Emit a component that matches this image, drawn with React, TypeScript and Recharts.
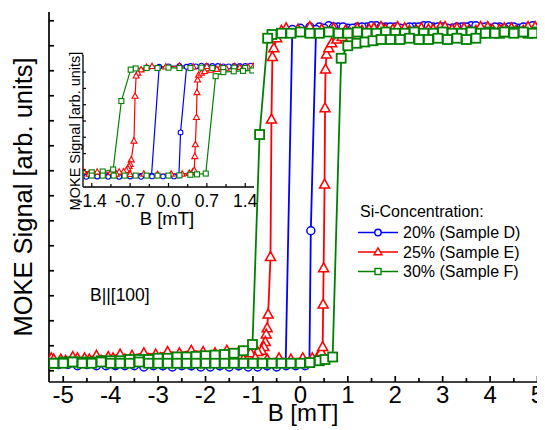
import React from 'react';
import { LineChart, Line, XAxis, YAxis } from 'recharts';

const FONT = '"Liberation Sans", Arial, Helvetica, sans-serif';
const BLUE = '#0000ff';
const RED = '#ff0000';
const GREEN = '#008000';

// ---- Sample D (20 %) : descending branch then ascending branch ----
const blueDownB = [5.2, 5.0, 4.8, 4.6, 4.4, 4.2, 4.0, 3.8, 3.6, 3.4, 3.2, 3.0, 2.8, 2.6, 2.4, 2.2, 2.0, 1.8, 1.6, 1.4, 1.2, 1.0, 0.8, 0.6, 0.4, 0.2, 0.0, -0.17, -0.31, -0.5, -0.7, -0.9, -1.1, -1.3, -1.5, -1.7, -1.9, -2.1, -2.3, -2.5, -2.7, -2.9, -3.1, -3.3, -3.5, -3.7, -3.9, -4.1, -4.3, -4.5, -4.7, -4.9, -5.1];
const blueDownM = [1.35, 1.34, 1.35, 1.34, 1.35, 1.35, 1.34, 1.35, 1.36, 1.35, 1.34, 1.35, 1.35, 1.36, 1.35, 1.34, 1.35, 1.35, 1.36, 1.35, 1.35, 1.34, 1.35, 1.36, 1.35, 1.35, 1.34, 1.33, -1.34, -1.35, -1.36, -1.36, -1.35, -1.36, -1.35, -1.36, -1.36, -1.35, -1.36, -1.35, -1.35, -1.36, -1.35, -1.36, -1.35, -1.35, -1.36, -1.35, -1.34, -1.35, -1.35, -1.34, -1.35];
const blueUpB = [-5.1, -4.9, -4.7, -4.5, -4.3, -4.1, -3.9, -3.7, -3.5, -3.3, -3.1, -2.9, -2.7, -2.5, -2.3, -2.1, -1.9, -1.7, -1.5, -1.3, -1.1, -0.9, -0.7, -0.5, -0.3, -0.1, 0.1, 0.19, 0.22, 0.33, 0.5, 0.7, 0.9, 1.1, 1.3, 1.5, 1.7, 1.9, 2.1, 2.3, 2.5, 2.7, 2.9, 3.1, 3.3, 3.5, 3.7, 3.9, 4.1, 4.3, 4.5, 4.7, 4.9, 5.1];
const blueUpM = [-1.35, -1.35, -1.36, -1.35, -1.36, -1.36, -1.35, -1.36, -1.36, -1.37, -1.36, -1.36, -1.37, -1.36, -1.36, -1.37, -1.37, -1.36, -1.37, -1.36, -1.37, -1.37, -1.36, -1.37, -1.36, -1.36, -1.36, -1.34, -0.28, 1.33, 1.34, 1.35, 1.35, 1.34, 1.35, 1.36, 1.35, 1.35, 1.34, 1.35, 1.35, 1.36, 1.35, 1.34, 1.35, 1.35, 1.36, 1.35, 1.35, 1.34, 1.35, 1.35, 1.36, 1.35];

// ---- Sample E (25 %) ----
const redDownB = [5.2, 4.95, 4.7, 4.45, 4.2, 3.95, 3.7, 3.45, 3.2, 2.95, 2.7, 2.45, 2.2, 1.95, 1.7, 1.45, 1.2, 0.95, 0.7, 0.45, 0.2, -0.05, -0.3, -0.4, -0.5, -0.56, -0.59, -0.61, -0.63, -0.68, -0.7, -0.72, -0.74, -0.77, -0.82, -0.9, -1.05, -1.3, -1.55, -1.8, -2.05, -2.3, -2.55, -2.8, -3.05, -3.3, -3.55, -3.8, -4.05, -4.3, -4.55, -4.8, -5.05, -5.25];
const redDownM = [1.33, 1.35, 1.32, 1.34, 1.33, 1.35, 1.32, 1.34, 1.33, 1.35, 1.33, 1.32, 1.34, 1.33, 1.35, 1.33, 1.34, 1.32, 1.34, 1.33, 1.35, 1.33, 1.34, 1.32, 1.26, 1.18, 1.11, 0.61, -0.49, -0.95, -1.06, -1.11, -1.17, -1.21, -1.24, -1.25, -1.26, -1.25, -1.24, -1.26, -1.25, -1.24, -1.26, -1.25, -1.27, -1.26, -1.28, -1.27, -1.29, -1.28, -1.3, -1.29, -1.31, -1.3];
const redUpB = [-5.2, -4.95, -4.7, -4.45, -4.2, -3.95, -3.7, -3.45, -3.2, -2.95, -2.7, -2.45, -2.2, -1.95, -1.7, -1.45, -1.2, -0.95, -0.7, -0.45, -0.2, 0.05, 0.25, 0.38, 0.44, 0.47, 0.48, 0.49, 0.51, 0.52, 0.53, 0.55, 0.6, 0.66, 0.77, 0.88, 1.05, 1.3, 1.55, 1.8, 2.05, 2.3, 2.55, 2.8, 3.05, 3.3, 3.55, 3.8, 4.05, 4.3, 4.55, 4.8, 5.05];
const redUpM = [-1.31, -1.32, -1.3, -1.31, -1.32, -1.3, -1.31, -1.32, -1.31, -1.3, -1.32, -1.31, -1.3, -1.31, -1.32, -1.3, -1.31, -1.3, -1.31, -1.3, -1.31, -1.3, -1.3, -1.28, -1.25, -1.21, -0.87, -0.58, 0.09, 0.7, 1.01, 1.13, 1.18, 1.22, 1.25, 1.27, 1.3, 1.32, 1.34, 1.33, 1.35, 1.32, 1.34, 1.33, 1.35, 1.34, 1.32, 1.35, 1.33, 1.34, 1.32, 1.35, 1.33];

// ---- Sample F (30 %) ----
const greenDownB = [5.2, 5.0, 4.8, 4.6, 4.4, 4.2, 4.0, 3.8, 3.6, 3.4, 3.2, 3.0, 2.8, 2.6, 2.4, 2.2, 2.0, 1.8, 1.6, 1.4, 1.2, 1.0, 0.8, 0.6, 0.4, 0.2, 0.0, -0.2, -0.4, -0.6, -0.69, -0.86, -1.01, -1.2, -1.4, -1.6, -1.8, -2.0, -2.2, -2.4, -2.6, -2.8, -3.0, -3.2, -3.4, -3.6, -3.8, -4.0, -4.2, -4.4, -4.6, -4.8, -5.0, -5.2];
const greenDownM = [1.31, 1.31, 1.3, 1.31, 1.31, 1.3, 1.31, 1.3, 1.31, 1.3, 1.3, 1.31, 1.3, 1.3, 1.31, 1.3, 1.3, 1.31, 1.3, 1.3, 1.31, 1.3, 1.3, 1.31, 1.3, 1.3, 1.31, 1.3, 1.3, 1.29, 1.26, 0.49, -1.19, -1.24, -1.26, -1.27, -1.275, -1.28, -1.285, -1.29, -1.29, -1.3, -1.3, -1.31, -1.31, -1.31, -1.32, -1.32, -1.32, -1.33, -1.33, -1.33, -1.33, -1.34];
const greenUpB = [-5.2, -5.0, -4.8, -4.6, -4.4, -4.2, -4.0, -3.8, -3.6, -3.4, -3.2, -3.0, -2.8, -2.6, -2.4, -2.2, -2.0, -1.8, -1.6, -1.4, -1.2, -1.0, -0.8, -0.6, -0.4, -0.2, 0.0, 0.2, 0.4, 0.52, 0.68, 0.86, 1.0, 1.19, 1.36, 1.53, 1.7, 1.9, 2.1, 2.3, 2.5, 2.7, 2.9, 3.1, 3.3, 3.5, 3.7, 3.9, 4.1, 4.3, 4.5, 4.7, 4.9, 5.1];
const greenUpM = [-1.34, -1.34, -1.33, -1.34, -1.34, -1.33, -1.34, -1.34, -1.34, -1.33, -1.34, -1.34, -1.34, -1.34, -1.34, -1.34, -1.34, -1.34, -1.34, -1.34, -1.34, -1.34, -1.34, -1.34, -1.34, -1.34, -1.34, -1.335, -1.32, -1.31, -1.29, 1.1, 1.2, 1.22, 1.23, 1.24, 1.25, 1.25, 1.25, 1.26, 1.25, 1.25, 1.26, 1.25, 1.26, 1.25, 1.26, 1.3, 1.3, 1.31, 1.3, 1.31, 1.3, 1.31];

// ---- axes ----
const mainXTicks = [-5, -4.5, -4, -3.5, -3, -2.5, -2, -1.5, -1, -0.5, 0, 0.5, 1, 1.5, 2, 2.5, 3, 3.5, 4, 4.5, 5, 5.5];
const mainYTicks = [-1.4, -1.2, -1.0, -0.8, -0.6, -0.4, -0.2, 0, 0.2, 0.4, 0.6, 0.8, 1.0, 1.2, 1.4];
const insetXTicks = [-1.4, -1.05, -0.7, -0.35, 0, 0.35, 0.7, 1.05, 1.4];
const insetXLabels = [-1.4, -0.7, 0, 0.7, 1.4];
const insetYTicks = [-1.2, -0.8, -0.4, 0, 0.4, 0.8, 1.2];

const legendItems = [
  { name: '20% (Sample D)', color: BLUE, shape: 'circle' },
  { name: '25% (Sample E)', color: RED, shape: 'triangle' },
  { name: '30% (Sample F)', color: GREEN, shape: 'square' },
];

const zip = (bs: number[], ms: number[]) => bs.map((b, i) => ({ b, m: ms[i] }));
const blueData = [...zip(blueDownB, blueDownM), ...zip(blueUpB, blueUpM)];
const redData = [...zip(redDownB, redDownM), ...zip(redUpB, redUpM)];
const greenData = [...zip(greenDownB, greenDownM), ...zip(greenUpB, greenUpM)];

// ---- markers ----
const mkCircle = (r: number, color: string, sw: number) => (p: any) => {
  const { cx, cy, index } = p;
  if (!Number.isFinite(cx) || !Number.isFinite(cy)) return <g key={`c${index}`} />;
  return <circle key={`c${index}`} cx={cx} cy={cy} r={r} fill="#fff" stroke={color} strokeWidth={sw} />;
};
const mkSquare = (s: number, color: string, sw: number) => (p: any) => {
  const { cx, cy, index } = p;
  if (!Number.isFinite(cx) || !Number.isFinite(cy)) return <g key={`s${index}`} />;
  return <rect key={`s${index}`} x={cx - s / 2} y={cy - s / 2} width={s} height={s} fill="#fff" stroke={color} strokeWidth={sw} />;
};
const mkTriangle = (w: number, color: string, sw: number) => (p: any) => {
  const { cx, cy, index } = p;
  if (!Number.isFinite(cx) || !Number.isFinite(cy)) return <g key={`t${index}`} />;
  const h = w * 0.9;
  const d = `M${cx},${cy - h * 0.6} L${cx + w / 2},${cy + h * 0.4} L${cx - w / 2},${cy + h * 0.4} Z`;
  return <path key={`t${index}`} d={d} fill="#fff" stroke={color} strokeWidth={sw} strokeLinejoin="miter" />;
};

// ---- ticks (inward) ----
const AX = 1.7;
const MainBottomTick = (p: any) => {
  const { x, y, payload } = p;
  const v = payload.value;
  const major = Number.isInteger(v);
  return (
    <g>
      <line x1={x} x2={x} y1={y} y2={y - (major ? 6 : 4)} stroke="#000" strokeWidth={AX} />
      {major && (
        <text x={x} y={y + 20.5} textAnchor="middle" fontSize={24} fontFamily={FONT} fill="#000">
          {String(v)}
        </text>
      )}
    </g>
  );
};
const MainTopTick = (p: any) => {
  const { x, y, payload } = p;
  const major = Number.isInteger(payload.value);
  return <line x1={x} x2={x} y1={y} y2={y + (major ? 6 : 4)} stroke="#000" strokeWidth={AX} />;
};
const MainLeftTick = (p: any) => {
  const { x, y } = p;
  return <line x1={x} x2={x + 5} y1={y} y2={y} stroke="#000" strokeWidth={AX} />;
};
const InsetBottomTick = (p: any) => {
  const { x, y, payload } = p;
  const v = payload.value;
  const major = insetXLabels.includes(v);
  return (
    <g>
      <line x1={x} x2={x} y1={y} y2={y - (major ? 4 : 3)} stroke="#000" strokeWidth={1.2} />
      {major && (
        <text x={x} y={y + 20} textAnchor="middle" fontSize={17.5} fontFamily={FONT} fill="#000">
          {v.toFixed(1)}
        </text>
      )}
    </g>
  );
};
const InsetTopTick = (p: any) => {
  const { x, y } = p;
  return <line x1={x} x2={x} y1={y} y2={y + 3} stroke="#000" strokeWidth={1.2} />;
};
const InsetLeftTick = (p: any) => {
  const { x, y } = p;
  return <line x1={x} x2={x + 3} y1={y} y2={y} stroke="#000" strokeWidth={1.2} />;
};
const InsetRightTick = (p: any) => {
  const { x, y } = p;
  return <line x1={x} x2={x - 3} y1={y} y2={y} stroke="#000" strokeWidth={1.2} />;
};

const MainXLabel = (p: any) => {
  const vb = p.viewBox;
  return (
    <text x={vb.x + 254} y={vb.y + 39} textAnchor="middle" fontSize={24} fontFamily={FONT} fill="#000">
      B [mT]
    </text>
  );
};
const MainYLabel = (p: any) => {
  const vb = p.viewBox;
  const cx = vb.x + 15;
  const cy = vb.y + vb.height / 2;
  return (
    <text x={cx} y={cy} transform={`rotate(-90 ${cx} ${cy})`} textAnchor="middle" dominantBaseline="central" fontSize={25.5} fontFamily={FONT} fill="#000">
      MOKE Signal [arb. units]
    </text>
  );
};
const InsetXLabel = (p: any) => {
  const vb = p.viewBox;
  return (
    <text x={vb.x + 84} y={vb.y + 38} textAnchor="middle" fontSize={18.5} fontFamily={FONT} fill="#000">
      B [mT]
    </text>
  );
};
const InsetYLabel = (p: any) => {
  const vb = p.viewBox;
  const cx = vb.x + 16;
  const cy = vb.y + 76;
  return (
    <text x={cx} y={cy} transform={`rotate(-90 ${cx} ${cy})`} textAnchor="middle" dominantBaseline="central" fontSize={14.5} fontFamily={FONT} fill="#000">
      MOKE Signal [arb. units]
    </text>
  );
};

const LegendMarker = ({ shape, color, x, y }: any) => {
  if (shape === 'circle') return <circle cx={x} cy={y} r={3.2} fill="#fff" stroke={color} strokeWidth={1.4} />;
  if (shape === 'square') return <rect x={x - 3} y={y - 3} width={6} height={6} fill="#fff" stroke={color} strokeWidth={1.4} />;
  const w = 8;
  const h = 7;
  return <path d={`M${x},${y - h * 0.6} L${x + w / 2},${y + h * 0.4} L${x - w / 2},${y + h * 0.4} Z`} fill="#fff" stroke={color} strokeWidth={1.4} />;
};

export default function App() {
  return (
    <div style={{ position: 'relative', width: 537, height: 422, overflow: 'hidden', fontFamily: FONT, background: '#fff' }}>
      <LineChart width={580} height={422} margin={{ top: 4, right: 22, bottom: 0, left: 0 }}>
        <XAxis
          dataKey="b"
          type="number"
          domain={[-5.3, 5.6]}
          allowDataOverflow
          ticks={mainXTicks}
          interval={0}
          tickSize={0}
          tickMargin={0}
          tickLine={false}
          tick={MainBottomTick}
          height={48}
          axisLine={{ stroke: '#000', strokeWidth: AX }}
          label={MainXLabel}
        />
        <XAxis
          xAxisId="top"
          orientation="top"
          type="number"
          domain={[-5.3, 5.6]}
          allowDataOverflow
          ticks={mainXTicks}
          interval={0}
          tickSize={0}
          tickMargin={0}
          tickLine={false}
          tick={MainTopTick}
          height={0}
          axisLine={{ stroke: '#000', strokeWidth: AX }}
        />
        <YAxis
          type="number"
          domain={[-1.49, 1.47]}
          allowDataOverflow
          ticks={mainYTicks}
          interval={0}
          tickSize={0}
          tickMargin={0}
          tickLine={false}
          tick={MainLeftTick}
          width={41}
          axisLine={{ stroke: '#000', strokeWidth: AX }}
          label={MainYLabel}
        />
        <Line data={blueData} dataKey="m" type="linear" stroke={BLUE} strokeWidth={1.8} dot={mkCircle(4, BLUE, 1.5)} activeDot={false} isAnimationActive={false} />
        <Line data={redData} dataKey="m" type="linear" stroke={RED} strokeWidth={1.8} dot={mkTriangle(10, RED, 1.5)} activeDot={false} isAnimationActive={false} />
        <Line data={greenData} dataKey="m" type="linear" stroke={GREEN} strokeWidth={1.8} dot={mkSquare(9, GREEN, 1.8)} activeDot={false} isAnimationActive={false} />
      </LineChart>

      <div style={{ position: 'absolute', left: 51, top: 37 }}>
        <LineChart width={198} height={186} margin={{ top: 10, right: 3, bottom: 0, left: 0 }}>
          <XAxis
            dataKey="b"
            type="number"
            domain={[-1.56, 1.56]}
            allowDataOverflow
            ticks={insetXTicks}
            interval={0}
            tickSize={0}
            tickMargin={0}
            tickLine={false}
            tick={InsetBottomTick}
            height={44}
            axisLine={{ stroke: '#000', strokeWidth: 1.3 }}
            label={InsetXLabel}
          />
          <XAxis
            xAxisId="top"
            orientation="top"
            type="number"
            domain={[-1.56, 1.56]}
            allowDataOverflow
            ticks={insetXTicks}
            interval={0}
            tickSize={0}
            tickMargin={0}
            tickLine={false}
            tick={InsetTopTick}
            height={0}
            axisLine={{ stroke: '#000', strokeWidth: 1.3 }}
          />
          <YAxis
            type="number"
            domain={[-1.62, 1.62]}
            allowDataOverflow
            ticks={insetYTicks}
            interval={0}
            tickSize={0}
            tickMargin={0}
            tickLine={false}
            tick={InsetLeftTick}
            width={24}
            axisLine={{ stroke: '#000', strokeWidth: 1.3 }}
            label={InsetYLabel}
          />
          <YAxis
            yAxisId="right"
            orientation="right"
            type="number"
            domain={[-1.62, 1.62]}
            allowDataOverflow
            ticks={insetYTicks}
            interval={0}
            tickSize={0}
            tickMargin={0}
            tickLine={false}
            tick={InsetRightTick}
            width={0}
            axisLine={{ stroke: '#000', strokeWidth: 1.3 }}
          />
          <Line data={blueData} dataKey="m" type="linear" stroke={BLUE} strokeWidth={1.2} dot={mkCircle(2.4, BLUE, 1.1)} activeDot={false} isAnimationActive={false} />
          <Line data={redData} dataKey="m" type="linear" stroke={RED} strokeWidth={1.2} dot={mkTriangle(6, RED, 1.1)} activeDot={false} isAnimationActive={false} />
          <Line data={greenData} dataKey="m" type="linear" stroke={GREEN} strokeWidth={1.2} dot={mkSquare(5, GREEN, 1.1)} activeDot={false} isAnimationActive={false} />
        </LineChart>
      </div>

      <svg width={537} height={422} style={{ position: 'absolute', left: 0, top: 0, pointerEvents: 'none' }}>
        <text x={82} y={293} fontSize={17.5} fontFamily={FONT} fill="#000">B||[100]</text>
        <text x={352} y={209} fontSize={16} fontFamily={FONT} fill="#000">Si-Concentration:</text>
        {legendItems.map((it, i) => {
          const base = 230 + i * 19.5;
          const ly = base - 5.5;
          return (
            <g key={it.name}>
              <line x1={350} x2={390} y1={ly} y2={ly} stroke={it.color} strokeWidth={1.6} />
              <LegendMarker shape={it.shape} color={it.color} x={370} y={ly} />
              <text x={395} y={base} fontSize={16} fontFamily={FONT} fill="#000">{it.name}</text>
            </g>
          );
        })}
      </svg>
    </div>
  );
}
